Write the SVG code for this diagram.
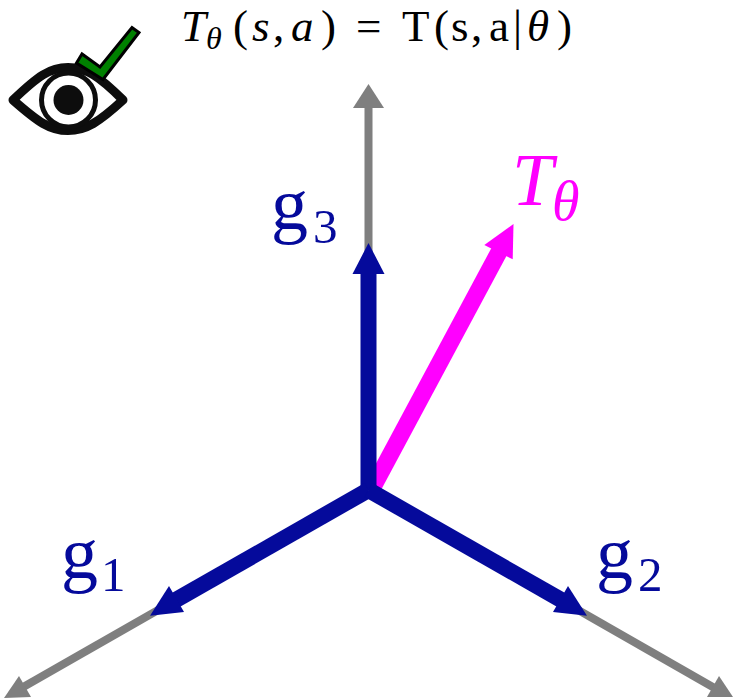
<svg xmlns="http://www.w3.org/2000/svg" width="733" height="700" viewBox="0 0 733 700">
<style>
.g{stroke:#7f7f7f;stroke-width:8;fill:none}
.gh{fill:#7f7f7f}
.b{stroke:#050a9b;stroke-width:16;fill:none}
.bh{fill:#050a9b}
text{font-family:"Liberation Serif","DejaVu Serif",serif}
.f{font-size:45px;fill:#000}
.l{fill:#050a9b}
.m{fill:#ff00ff}
.i{font-style:italic}
</style>
<rect width="733" height="700" fill="#fff"/>
<g id="connectors">
<path class="g" d="M368.500 490V100"/><path class="gh" d="M368.500 84L384 108H353Z"/>
<path class="g" d="M368.500 490L18 690"/><path class="gh" d="M4 698L19 676L31 697Z"/>
<path class="g" d="M368.500 490L718 690"/><path class="gh" d="M733 697L719 676L707 697Z"/>
<path stroke="#ff00ff" stroke-width="17" fill="none" d="M373 487L500 250"/><path fill="#ff00ff" d="M513.500 224L512.700 259.300L484.300 245Z"/>
<path class="b" d="M368.500 490V270"/><path class="bh" d="M368.500 243L384.500 274H352.500Z"/>
<path class="b" d="M368.500 490L174 601"/><path class="bh" d="M150 615.700L169 586L184 612Z"/>
<path class="b" d="M368.500 490L563 601"/><path class="bh" d="M587 615.700L568 586L553 612Z"/>
</g>
<g id="icon">
<path d="M13 100C38 76 50 67.500 68 67.500C86 67.500 99 76 123 100C99 122 86 130.500 68 130.500C50 130.500 38 122 13 100Z" fill="#fff" stroke="#0d0d0d" stroke-width="9" stroke-linejoin="round"/>
<circle cx="68.500" cy="100" r="27" fill="#fff" stroke="#0d0d0d" stroke-width="5"/>
<circle cx="68.500" cy="100" r="15" fill="#0d0d0d"/>
<path d="M76.500 63L82 54L100 67L132 27.500L139 32.500L103 79.500Z" fill="#008000" stroke="#000" stroke-width="3"/>
</g>
<g id="formula">
<text class="f i" x="181" y="41">T</text>
<text class="i" x="206" y="49" font-size="32">θ</text>
<text class="f" x="233" y="41">(</text>
<text class="f i" x="252" y="41">s</text>
<text class="f" x="273" y="41">,</text>
<text class="f i" x="291" y="41">a</text>
<text class="f" x="321" y="41">)</text>
<text class="f" x="356" y="41">=</text>
<text class="f" x="402" y="41">T</text>
<text class="f" x="434" y="41">(</text>
<text class="f" x="451" y="41">s</text>
<text class="f" x="471" y="41">,</text>
<text class="f" x="489" y="41">a</text>
<text class="f" x="513" y="41">|</text>
<text class="f i" x="527" y="41">θ</text>
<text class="f" x="557" y="41">)</text>
</g>
<g id="g3"><text class="l" x="271" y="229" font-size="74">g</text><text class="l" x="313" y="243" font-size="49">3</text></g>
<g id="g1"><text class="l" x="61" y="578" font-size="74">g</text><text class="l" x="101" y="591" font-size="49">1</text></g>
<g id="g2"><text class="l" x="596" y="578" font-size="74">g</text><text class="l" x="638" y="591" font-size="49">2</text></g>
<g id="t"><text class="m i" x="512" y="205" font-size="74">T</text><text class="m i" x="552" y="220" font-size="56">θ</text></g>
</svg>
